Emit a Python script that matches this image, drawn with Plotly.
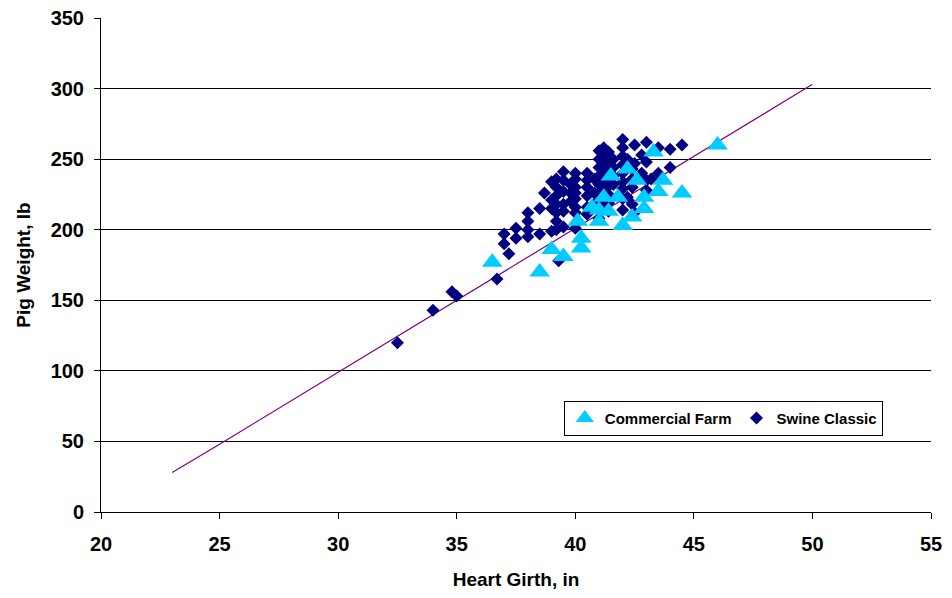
import plotly.graph_objects as go

# Commercial Farm (triangles)
farm_girth = [36.5, 38.5, 39.0, 39.5, 40.25, 40.25, 40.1, 41.0, 41.0, 42.0, 41.4, 42.4,
              42.9, 42.9, 43.7, 44.5, 46.0, 43.3, 42.6, 41.8, 41.2, 40.7, 42.2, 41.5, 43.5]
farm_weight = [177, 170, 186, 181, 187, 194, 206, 206, 214, 203, 213, 209,
               215, 223, 235, 226, 260, 255, 235, 223, 223, 216, 243, 238, 227]

# Swine Classic (diamonds)
swine_girth = [32.5, 34.0, 34.8, 35.0, 36.7, 39.3,
               37.0, 37.0, 37.2,
               37.5, 37.5,
               38.0, 38.0, 38.0, 38.0,
               38.5, 38.5, 38.7,
               39.0, 39.0, 39.0, 39.0,
               39.2, 39.2, 39.2, 39.2, 39.2, 39.2, 39.2,
               39.5, 39.5, 39.5, 39.5, 39.5, 39.5,
               39.8, 39.8, 39.8,
               40.0, 40.0, 40.0, 40.0, 40.0, 40.0, 40.0, 40.0,
               40.5, 40.5, 40.5, 40.5, 40.5, 40.5,
               40.8, 40.8, 40.8,
               41.0, 41.0, 41.0, 41.0, 41.0, 41.0, 41.0, 41.0, 41.0,
               41.2, 41.2, 41.2, 41.2, 41.2, 41.2, 41.2, 41.2,
               41.4, 41.4, 41.4, 41.4, 41.4, 41.4, 41.4, 41.4,
               41.6, 41.6, 41.6, 41.6,
               42.0, 42.0, 42.0, 42.0, 42.0, 42.0, 42.0, 42.0, 42.0,
               42.2, 42.2, 42.2,
               42.4, 42.4, 42.4, 42.4,
               42.5, 42.5, 42.5,
               42.8, 42.8,
               43.0, 43.0, 43.0, 43.0,
               43.2,
               43.5, 43.5,
               44.0, 44.0,
               44.5]
swine_weight = [120, 143, 156, 153, 165, 178,
                197, 190, 183,
                201, 194,
                212, 206, 200, 195,
                215, 197, 226,
                221, 215, 234, 199,
                236, 230, 224, 218, 212, 206, 200,
                241, 235, 227, 218, 213, 202,
                232, 226, 220,
                240, 236, 230, 226, 222, 216, 212, 201,
                240, 235, 230, 224, 216, 211,
                236, 226, 218,
                256, 250, 244, 238, 232, 226, 220, 214, 208,
                258, 252, 246, 240, 234, 228, 222, 216,
                255, 249, 243, 237, 231, 225, 219, 213,
                250, 244, 238, 232,
                264, 258, 252, 246, 240, 234, 229, 222, 214,
                250, 244, 223,
                243, 236, 230, 218,
                260, 247, 212,
                240, 253,
                262, 248, 235, 228,
                236,
                258, 240,
                257, 244,
                260]

# Prediction line
line_girth = [23, 25, 30, 35, 40, 45, 50]
line_weight = [28, 48, 99, 150, 201, 252, 303]

x_ticks = [20, 25, 30, 35, 40, 45, 50, 55]
y_ticks = [0, 50, 100, 150, 200, 250, 300, 350]

font_family = "Liberation Sans, Arial, sans-serif"

fig = go.Figure()
fig.add_trace(go.Scatter(
    x=line_girth, y=line_weight, mode="lines",
    line=dict(color="#800080", width=1.2), showlegend=False, hoverinfo="skip"))
fig.add_trace(go.Scatter(
    x=swine_girth, y=swine_weight, mode="markers", name="Swine Classic",
    marker=dict(symbol="diamond", size=10, color="#000080", line=dict(width=0))))
fig.add_trace(go.Scatter(
    x=farm_girth, y=farm_weight, mode="markers", name="Commercial Farm",
    marker=dict(symbol="triangle-up", size=18, color="#00CCFF", line=dict(width=0))))

fig.update_layout(
    width=942, height=582,
    margin=dict(l=93, r=19, t=10, b=78),
    paper_bgcolor="white", plot_bgcolor="white",
    font=dict(family=font_family, size=20, color="black"),
    showlegend=True,
    legend=dict(
        orientation="h", x=0.5576, y=0.19, xanchor="left", yanchor="middle",
        bgcolor="white", bordercolor="black", borderwidth=1,
        font=dict(family=font_family, size=15, color="black", weight="bold"),
        traceorder="reversed", itemsizing="trace", itemwidth=30,
    ),
    xaxis=dict(
        range=[20, 55], tickvals=x_ticks, ticks="outside", ticklen=6,
        tickcolor="black", showline=True, linecolor="black", linewidth=1,
        showgrid=False, zeroline=False, automargin=False,
        ticklabeloverflow="allow", ticklabelstandoff=8,
        tickfont=dict(family=font_family, size=20, weight="bold"),
        title=dict(text="Heart Girth, in",
                   font=dict(family=font_family, size=19, weight="bold"),
                   standoff=22),
    ),
    yaxis=dict(
        range=[0, 350], tickvals=y_ticks, ticks="outside", ticklen=6,
        tickcolor="black", showline=True, linecolor="black", linewidth=1,
        showgrid=True, gridcolor="black", gridwidth=1, zeroline=False,
        automargin=False, ticklabeloverflow="allow", ticklabelstandoff=6,
        tickfont=dict(family=font_family, size=20, weight="bold"),
        title=dict(text="Pig Weight, lb",
                   font=dict(family=font_family, size=19, weight="bold"),
                   standoff=14),
    ),
)

fig.write_html("out.html")
